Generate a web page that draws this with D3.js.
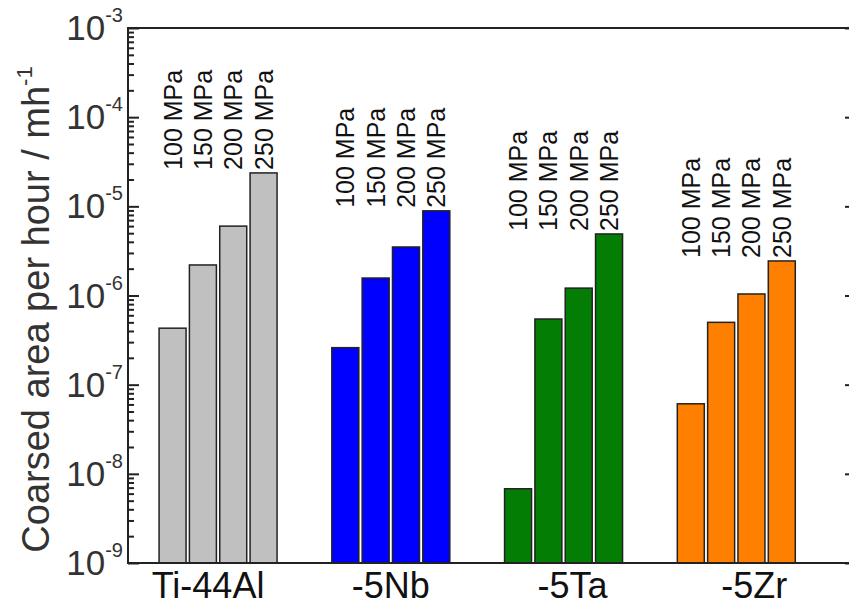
<!DOCTYPE html>
<html lang="en">
<head>
  <meta charset="UTF-8" />
  <title>Coarsed area per hour</title>
  <script src="https://d3js.org/d3.v7.min.js"></script>
  <style>
    body, html {
      margin: 0;
      padding: 0;
      background: #fff;
    }
    svg {
      display: block;
      font-family: "Liberation Sans", Arial, sans-serif;
    }
  </style>
</head>
<body>
  <svg id="chart" width="849" height="606"></svg>
  <script>
    // Data
    const categories = ['Ti-44Al', '-5Nb', '-5Ta', '-5Zr'];
    const stresses = ['100 MPa', '150 MPa', '200 MPa', '250 MPa'];
    const tiValues = [4.3e-7, 2.2e-6, 6.0e-6, 2.37e-5];
    const nbValues = [2.6e-7, 1.57e-6, 3.5e-6, 8.9e-6];
    const taValues = [6.8e-9, 5.45e-7, 1.21e-6, 4.9e-6];
    const zrValues = [6.1e-8, 5.0e-7, 1.04e-6, 2.44e-6];
    const yExponents = [-9, -8, -7, -6, -5, -4, -3];

    const series = [tiValues, nbValues, taValues, zrValues];
    const colors = ['#c0c0c0', '#0000ff', '#047d04', '#ff8000'];

    const width = 849, height = 606;
    const margin = { top: 28, right: -4, bottom: 43, left: 128 };
    const x0 = margin.left, x1 = width - margin.right;
    const y0 = height - margin.bottom, y1 = margin.top;

    const svg = d3.select('#chart');

    const y = d3.scaleLog()
      .domain([1e-9, 1e-3])
      .range([y0, y1]);

    const xGroup = d3.scaleBand()
      .domain(categories)
      .range([x0, x1])
      .paddingInner(0.317)
      .paddingOuter(0.257)
      .align(0.35);

    const xBar = d3.scaleBand()
      .domain(stresses)
      .range([0, xGroup.bandwidth()])
      .paddingInner(0.11);

    // bars
    const groups = svg.append('g')
      .selectAll('g')
      .data(categories)
      .enter().append('g')
      .attr('transform', d => `translate(${xGroup(d)},0)`);

    groups.selectAll('rect')
      .data((d, i) => series[i].map((v, j) => ({ v, s: stresses[j], c: colors[i] })))
      .enter().append('rect')
      .attr('x', d => xBar(d.s))
      .attr('y', d => y(d.v))
      .attr('width', xBar.bandwidth())
      .attr('height', d => y0 - y(d.v))
      .attr('fill', d => d.c)
      .attr('stroke', '#222')
      .attr('stroke-width', 1.5);

    // rotated stress labels, all starting just above the tallest bar of the group
    groups.each(function(d, i) {
      const top = y(d3.max(series[i])) - 3;
      d3.select(this).selectAll('text')
        .data(stresses)
        .enter().append('text')
        .attr('transform', s => `translate(${xBar(s) + xBar.bandwidth() / 2},${top}) rotate(-90)`)
        .attr('dy', '0.36em')
        .attr('font-size', 25)
        .attr('fill', '#111')
        .text(s => s);
    });

    // left axis: major + minor ticks pointing inward
    const minorTicks = [];
    yExponents.slice(0, -1).forEach(e => {
      for (let k = 2; k <= 9; k++) minorTicks.push(k * Math.pow(10, e));
    });
    const majorTicks = yExponents.map(e => Math.pow(10, e));

    svg.append('g')
      .attr('transform', `translate(${x0},0)`)
      .call(d3.axisRight(y).tickValues(minorTicks).tickSize(6).tickFormat(''))
      .call(g => g.select('.domain').remove())
      .call(g => g.selectAll('line').attr('stroke', '#222').attr('stroke-width', 2));

    svg.append('g')
      .attr('transform', `translate(${x0},0)`)
      .call(d3.axisRight(y).tickValues(majorTicks).tickSize(11).tickFormat(''))
      .call(g => g.select('.domain').remove())
      .call(g => g.selectAll('line').attr('stroke', '#222').attr('stroke-width', 2));

    // right axis: major ticks only
    svg.append('g')
      .attr('transform', `translate(${x1},0)`)
      .call(d3.axisLeft(y).tickValues(majorTicks).tickSize(8).tickFormat(''))
      .call(g => g.select('.domain').remove())
      .call(g => g.selectAll('line').attr('stroke', '#222').attr('stroke-width', 2));

    // frame
    svg.append('rect')
      .attr('x', x0)
      .attr('y', y1)
      .attr('width', x1 - x0)
      .attr('height', y0 - y1)
      .attr('fill', 'none')
      .attr('stroke', '#222')
      .attr('stroke-width', 2);

    // y tick labels 10^n
    const yLab = svg.append('g')
      .selectAll('text')
      .data(yExponents)
      .enter().append('text')
      .attr('x', x0 - 5)
      .attr('y', e => y(Math.pow(10, e)) + 12)
      .attr('text-anchor', 'end')
      .attr('font-size', 35)
      .attr('fill', '#333');
    yLab.append('tspan').text('10');
    yLab.append('tspan')
      .attr('font-size', 20)
      .attr('dy', -18)
      .text(e => e);

    // x category labels
    const labelShift = [-10, 0, 9, 18];
    svg.append('g')
      .selectAll('text')
      .data(categories)
      .enter().append('text')
      .attr('x', (d, i) => xGroup(d) + xGroup.bandwidth() / 2 + labelShift[i])
      .attr('y', 598)
      .attr('text-anchor', 'middle')
      .attr('font-size', 36)
      .attr('fill', '#111')
      .text(d => d);

    // y title
    const title = svg.append('text')
      .attr('transform', `translate(49,${(y0 + y1) / 2 + 14}) rotate(-90)`)
      .attr('text-anchor', 'middle')
      .attr('font-size', 38)
      .attr('fill', '#333');
    title.append('tspan').text('Coarsed area per hour / mh');
    title.append('tspan')
      .attr('font-size', 22)
      .attr('dy', -17)
      .text('-1');
  </script>
</body>
</html>
